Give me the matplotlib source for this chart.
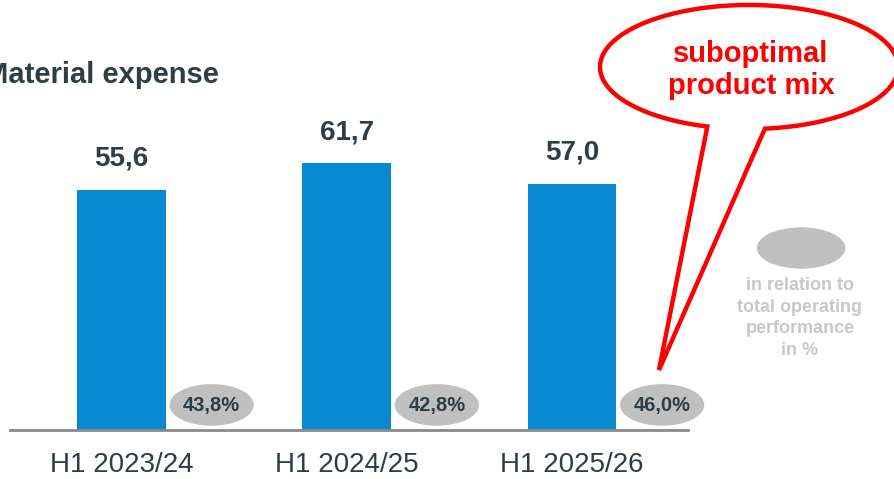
import numpy as np
import matplotlib as mpl
mpl.use('Agg')
import matplotlib.pyplot as plt
from matplotlib.patches import Ellipse, Polygon

# data
periods = ["H1 2023/24", "H1 2024/25", "H1 2025/26"]
expense = [55.6, 61.7, 57.0]
share_pct = [43.8, 42.8, 46.0]

W, H = 895, 479
dark = "#2d3e48"
blue = "#0889d0"
grey = "#c0c0c0"

plt.rcParams['font.family'] = ['Liberation Sans', 'DejaVu Sans']

fig = plt.figure(figsize=(W / 100, H / 100), dpi=100)


def fx(x):
    return x / W


def fy(y):
    return 1 - y / H


# axes: baseline at y=430 px, x from 10 to 688 px
ax = fig.add_axes([fx(10), fy(430), 678 / W, 430 / H])
ax.set_xlim(-0.495, 2.515)
ax.set_ylim(0, 99.5)
x = np.arange(len(periods))
ax.bar(x, expense, width=0.395, color=blue, zorder=2)

for xi, v in zip(x, expense):
    ax.text(xi, v + 4.2, f"{v:.1f}".replace(".", ","), ha="center", va="bottom",
            fontsize=20, fontweight="bold", color=dark)

for xi, p in zip(x, share_pct):
    ax.add_patch(Ellipse((xi + 0.4, 5.8), 0.368, 9.3, color=grey, zorder=3,
                         clip_on=False))
    ax.text(xi + 0.4, 5.6, f"{p:.1f}%".replace(".", ","), ha="center", va="center",
            fontsize=14.5, fontweight="bold", color=dark, zorder=4, clip_on=False)

for s in ["top", "left", "right"]:
    ax.spines[s].set_visible(False)
ax.spines["bottom"].set_color("#8a8a8a")
ax.spines["bottom"].set_linewidth(2)
ax.set_yticks([])
ax.set_xticks(x)
ax.set_xticklabels(periods, fontsize=20, color=dark)
ax.tick_params(axis="x", length=0, pad=16)

# title
fig.text(fx(-16), fy(75), "Material expense", ha="left", va="center",
         fontsize=21, fontweight="bold", color=dark)

# legend bubble
fig.patches.append(Ellipse((fx(801), fy(248)), 87 / W, 40 / H, color=grey,
                           transform=fig.transFigure, figure=fig))
fig.text(fx(800), fy(318), "in relation to\ntotal operating\nperformance\nin %",
         ha="center", va="center", fontsize=13, fontweight="bold",
         color="#c8c8c8", linespacing=1.38)

# callout
cx, cy, rx, ry = 749, 67, 149, 62
a1 = np.arctan2((127 - cy) / ry, (707 - cx) / rx)
a2 = np.arctan2((129 - cy) / ry, (765 - cx) / rx)
ang = np.linspace(a2, a1 - 2 * np.pi, 300)
px = cx + rx * np.cos(ang)
py = cy + ry * np.sin(ang)
pts = [(fx(a), fy(b)) for a, b in zip(px, py)] + [(fx(659), fy(370))]
fig.patches.append(Polygon(pts, closed=True, facecolor="white", edgecolor="#ff0000",
                           linewidth=3.2, transform=fig.transFigure, figure=fig,
                           joinstyle="miter"))
fig.text(fx(751), fy(70), "suboptimal\nproduct mix", ha="center", va="center",
         fontsize=21, fontweight="bold", color="#ff0000", linespacing=1.2)

plt.savefig("out.png", dpi=100)
